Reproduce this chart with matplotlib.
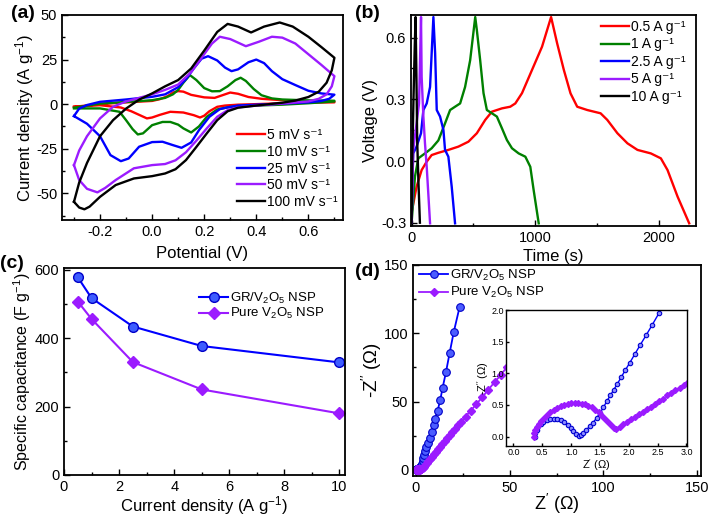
import matplotlib
matplotlib.use("Agg")
import matplotlib.pyplot as plt
from matplotlib.ticker import MultipleLocator

plt.rcParams['font.family'] = ['Liberation Sans', 'DejaVu Sans']
plt.rcParams['mathtext.default'] = 'regular'
plt.rcParams['axes.unicode_minus'] = False

# ---- (a) cyclic voltammetry: forward (upper) and reverse (lower) branches
cv5_e_up = [-0.3, -0.2, -0.1, 0.0, 0.03, 0.06, 0.08, 0.1, 0.12, 0.15, 0.2, 0.24, 0.27, 0.3, 0.33, 0.37, 0.42, 0.5, 0.6, 0.7]
cv5_i_up = [-1.5, 0.0, 1.0, 1.8, 2.8, 4.5, 6.5, 7.3, 7.0, 5.2, 3.8, 3.5, 5.0, 6.5, 5.8, 4.0, 3.0, 2.2, 1.6, 1.3]
cv5_e_dn = [0.7, 0.6, 0.5, 0.4, 0.33, 0.28, 0.25, 0.22, 0.2, 0.184, 0.16, 0.12, 0.07, 0.03, 0.0, -0.02, -0.05, -0.08, -0.12, -0.2, -0.3]
cv5_i_dn = [1.0, 0.8, 0.5, 0.0, -0.3, -0.8, -1.5, -4.0, -6.5, -7.5, -6.2, -4.7, -4.3, -6.0, -7.5, -8.0, -6.0, -4.0, -1.9, -0.6, -1.5]

cv10_e_up = [-0.3, -0.2, -0.1, 0.0, 0.05, 0.08, 0.1, 0.12, 0.145, 0.17, 0.2, 0.23, 0.26, 0.29, 0.32, 0.34, 0.36, 0.39, 0.42, 0.46, 0.5, 0.6, 0.7]
cv10_i_up = [-2.0, 0.3, 1.2, 2.2, 3.5, 5.5, 8.0, 12.0, 16.3, 13.5, 9.0, 7.2, 7.3, 10.0, 13.5, 14.8, 13.0, 8.5, 5.0, 3.2, 2.6, 2.1, 1.9]
cv10_e_dn = [0.7, 0.6, 0.5, 0.4, 0.33, 0.29, 0.25, 0.21, 0.18, 0.15, 0.12, 0.1, 0.07, 0.04, 0.0, -0.035, -0.055, -0.075, -0.1, -0.125, -0.2, -0.3]
cv10_i_dn = [1.5, 0.5, -0.3, -0.8, -1.0, -1.8, -3.0, -7.1, -12.5, -15.9, -13.6, -11.5, -10.0, -10.0, -11.8, -16.4, -17.0, -14.0, -9.0, -4.3, -2.4, -2.4]

cv25_e_up = [-0.3, -0.28, -0.25, -0.2, -0.1, 0.0, 0.05, 0.1, 0.13, 0.16, 0.19, 0.215, 0.25, 0.28, 0.305, 0.33, 0.37, 0.4, 0.43, 0.46, 0.5, 0.55, 0.6, 0.65, 0.7]
cv25_i_up = [-6.7, -2.5, -0.5, 1.3, 2.6, 4.1, 5.5, 9.5, 14.0, 20.0, 25.5, 26.9, 24.5, 20.5, 18.5, 19.5, 23.5, 25.0, 23.0, 18.5, 14.0, 10.7, 7.5, 6.0, 5.3]
cv25_e_dn = [0.7, 0.68, 0.65, 0.6, 0.5, 0.4, 0.33, 0.29, 0.26, 0.22, 0.18, 0.15, 0.113, 0.08, 0.04, 0.0, -0.05, -0.09, -0.12, -0.16, -0.2, -0.25, -0.3]
cv25_i_dn = [5.3, 3.0, 1.8, 1.0, 0.3, -0.3, -0.8, -1.8, -2.8, -7.1, -14.6, -21.5, -24.5, -23.0, -21.1, -21.3, -23.9, -30.5, -32.0, -28.6, -18.0, -11.0, -6.7]

cv50_e_up = [-0.3, -0.28, -0.25, -0.2, -0.15, -0.1, -0.05, 0.0, 0.05, 0.1, 0.15, 0.2, 0.23, 0.26, 0.3, 0.36, 0.41, 0.46, 0.5, 0.55, 0.6, 0.65, 0.7]
cv50_i_up = [-34.2, -26.0, -18.0, -8.0, -1.5, 1.5, 3.5, 5.5, 8.0, 11.0, 18.0, 28.0, 34.0, 37.8, 36.5, 32.5, 35.0, 37.8, 37.3, 34.0, 28.0, 22.0, 15.7]
cv50_e_dn = [0.7, 0.69, 0.67, 0.64, 0.6, 0.5, 0.4, 0.33, 0.29, 0.25, 0.21, 0.17, 0.13, 0.09, 0.05, 0.0, -0.07, -0.14, -0.18, -0.21, -0.25, -0.28, -0.3]
cv50_i_dn = [15.7, 10.0, 5.5, 3.0, 1.5, 0.3, -0.8, -1.8, -3.4, -7.1, -13.6, -20.5, -27.0, -31.5, -33.6, -34.2, -36.0, -42.6, -47.0, -49.5, -47.5, -42.6, -34.2]

cv100_e_up = [-0.3, -0.28, -0.25, -0.2, -0.15, -0.1, -0.05, 0.0, 0.05, 0.1, 0.15, 0.2, 0.25, 0.29, 0.33, 0.38, 0.43, 0.49, 0.54, 0.6, 0.65, 0.7]
cv100_i_up = [-54.8, -44.0, -33.0, -18.0, -9.0, -2.5, 2.5, 6.0, 10.0, 13.5, 20.0, 30.0, 40.5, 45.0, 43.5, 40.2, 43.5, 45.8, 43.5, 37.8, 32.0, 26.0]
cv100_e_dn = [0.7, 0.69, 0.67, 0.64, 0.6, 0.55, 0.5, 0.4, 0.33, 0.29, 0.25, 0.21, 0.17, 0.13, 0.09, 0.05, 0.0, -0.07, -0.14, -0.2, -0.24, -0.26, -0.28, -0.3]
cv100_i_dn = [26.0, 19.0, 12.0, 7.0, 4.0, 2.0, 0.8, -0.8, -2.0, -4.0, -9.0, -16.4, -24.0, -31.4, -36.5, -38.9, -40.4, -41.7, -45.4, -52.0, -57.5, -59.0, -58.0, -54.8]

cv_labels = ['5 mV s⁻¹', '10 mV s⁻¹', '25 mV s⁻¹', '50 mV s⁻¹', '100 mV s⁻¹']

# ---- (b) charge / discharge
gcd05_t = [0, 40, 81, 122, 162, 216, 297, 378, 459, 527, 595, 649, 730, 797, 838, 892, 973, 1054, 1127,
           1176, 1230, 1284, 1338, 1419, 1527, 1581, 1663, 1744, 1825, 1933, 2014, 2068, 2149, 2243]
gcd05_v = [-0.25, -0.125, -0.044, -0.003, 0.029, 0.04, 0.054, 0.07, 0.094, 0.135, 0.2, 0.24, 0.256, 0.264, 0.28, 0.33, 0.443, 0.556, 0.7,
           0.572, 0.443, 0.329, 0.264, 0.248, 0.232, 0.2, 0.135, 0.086, 0.054, 0.037, 0.013, -0.044, -0.173, -0.303]
gcd1_t = [0, 27, 54, 108, 162, 216, 270, 311, 351, 392, 432, 473, 514,
          527, 554, 581, 608, 649, 689, 730, 770, 811, 865, 919, 959, 986, 1027]
gcd1_v = [-0.3, -0.076, 0.013, 0.037, 0.062, 0.1, 0.183, 0.248, 0.264, 0.28, 0.36, 0.49, 0.7,
          0.637, 0.49, 0.33, 0.248, 0.232, 0.216, 0.159, 0.102, 0.062, 0.037, 0.021, -0.028, -0.141, -0.303]
gcd25_t = [0, 8, 13, 40, 76, 95, 122, 149, 176, 190, 203, 230, 257, 270, 297, 324, 351]
gcd25_v = [-0.3, -0.05, 0.037, 0.07, 0.135, 0.248, 0.28, 0.36, 0.7, 0.524, 0.248, 0.216, 0.151, 0.054, 0.021, -0.125, -0.303]
gcd5_t = [0, 13, 40, 60, 76, 81, 95, 108, 122, 149]
gcd5_v = [-0.3, 0.054, 0.183, 0.28, 0.7, 0.41, 0.216, 0.086, -0.028, -0.303]
gcd10_t = [0, 5, 15, 25, 32, 38, 45, 55, 67]
gcd10_v = [-0.3, 0.0, 0.3, 0.55, 0.7, 0.45, 0.1, -0.1, -0.3]
gcd_labels = ['0.5 A g⁻¹', '1 A g⁻¹', '2.5 A g⁻¹', '5 A g⁻¹', '10 A g⁻¹']

# ---- (c) specific capacitance
density = [0.5, 1, 2.5, 5, 10]
cap_gr = [578, 517, 434, 377, 329]
cap_pure = [507, 456, 330, 250, 180]

# ---- (d) Nyquist data
gr_zre = [0.37, 0.38, 0.40, 0.43, 0.47, 0.52, 0.58, 0.64, 0.70, 0.76, 0.82, 0.88, 0.94, 0.99, 1.04, 1.09, 1.13,
          1.17, 1.21, 1.26, 1.32, 1.38, 1.44, 1.50, 1.56, 1.62, 1.68, 1.74, 1.80, 1.87, 1.94, 2.02, 2.11, 2.20,
          2.30, 2.41, 2.53, 2.66, 3.0, 3.3, 3.6, 3.85, 4.1, 4.8, 5.5, 6.4, 7.3, 8.4, 9.45, 10.3, 11.6, 13.0,
          14.3, 16.05, 18.0, 20.2, 23.4]
gr_zim = [0.0, 0.06, 0.11, 0.16, 0.20, 0.23, 0.255, 0.27, 0.275, 0.27, 0.255, 0.225, 0.18, 0.13, 0.08, 0.035, 0.01,
          0.03, 0.06, 0.10, 0.16, 0.22, 0.29, 0.37, 0.46, 0.56, 0.65, 0.74, 0.83, 0.94, 1.05, 1.17, 1.31, 1.45,
          1.60, 1.77, 1.96, 2.16, 3.0, 4.6, 6.7, 8.7, 10.8, 13.7, 16.4, 19.8, 23.5, 27.9, 32.8, 37.6, 43.3, 51.0,
          60.2, 71.4, 85.4, 100.8, 119.6]
pure_zre = [0.35, 0.36, 0.38, 0.41, 0.44, 0.48, 0.53, 0.58, 0.64, 0.70, 0.76, 0.82, 0.88, 0.94, 1.0, 1.06, 1.12,
            1.18, 1.24, 1.30, 1.36, 1.42, 1.48, 1.54, 1.59, 1.64, 1.69, 1.74, 1.78, 1.84, 1.90, 1.97, 2.04, 2.11,
            2.18, 2.25, 2.32, 2.39, 2.46, 2.53, 2.60, 2.67, 2.74, 2.81, 2.88, 2.95, 3.02, 3.6, 4.3, 5.0, 5.8, 6.6,
            7.5, 8.5, 9.5, 10.6, 11.7, 12.9, 14.1, 15.4, 16.7, 18.1, 19.5, 21.0, 22.5, 24.1, 26.5, 29.2, 32.2,
            35.3, 38.6, 42.2, 45.4, 48.7]
pure_zim = [0.0, 0.05, 0.10, 0.15, 0.20, 0.25, 0.30, 0.34, 0.38, 0.42, 0.45, 0.48, 0.50, 0.52, 0.53, 0.53, 0.53,
            0.52, 0.51, 0.49, 0.46, 0.42, 0.38, 0.33, 0.28, 0.23, 0.18, 0.14, 0.12, 0.15, 0.19, 0.23, 0.27, 0.31,
            0.35, 0.39, 0.43, 0.47, 0.51, 0.56, 0.60, 0.65, 0.69, 0.73, 0.77, 0.82, 0.86, 1.4, 2.3, 3.4, 4.8, 6.3,
            7.9, 9.6, 11.3, 13.1, 15.0, 17.0, 19.0, 21.1, 23.2, 25.5, 27.8, 30.2, 32.6, 35.1, 39.0, 43.2, 48.0,
            53.0, 58.6, 64.6, 69.6, 75.6]
sample_labels = ['GR/V$_2$O$_5$ NSP', 'Pure V$_2$O$_5$ NSP']

RED, GREEN, BLUE, PURPLE, BLACK = '#ff0000', '#008000', '#0000ff', '#9b1bff', '#000000'
W, H = 708, 516
fig = plt.figure(figsize=(W / 100, H / 100), dpi=100)


def box(left, top, right, bottom):
    return fig.add_axes([left / W, 1 - bottom / H, (right - left) / W, (bottom - top) / H])


def style(ax, size=10.5, lw=1.3):
    for s in ax.spines.values():
        s.set_linewidth(lw)
    ax.tick_params(which='both', direction='in', top=False, right=False, labelsize=size, width=1.0)
    ax.tick_params(which='major', length=4)
    ax.tick_params(which='minor', length=2.5)


def legend(ax, x, y, size, spacing, hl=2.0):
    ax.legend(loc='upper left', bbox_to_anchor=(x / W, 1 - y / H), bbox_transform=fig.transFigure,
              frameon=False, fontsize=size, borderpad=0, borderaxespad=0, handlelength=hl,
              handletextpad=0.15, labelspacing=spacing)


# (a)
ax = box(62, 15, 343, 220)
cv_sets = [(cv5_e_up, cv5_i_up, cv5_e_dn, cv5_i_dn, RED),
           (cv10_e_up, cv10_i_up, cv10_e_dn, cv10_i_dn, GREEN),
           (cv25_e_up, cv25_i_up, cv25_e_dn, cv25_i_dn, BLUE),
           (cv50_e_up, cv50_i_up, cv50_e_dn, cv50_i_dn, PURPLE),
           (cv100_e_up, cv100_i_up, cv100_e_dn, cv100_i_dn, BLACK)]
for (eu, iu, ed, idn, c), lab in zip(cv_sets, cv_labels):
    ax.plot(eu + ed, iu + idn, color=c, lw=1.7, label=lab, solid_joinstyle='round')
ax.set_xlim(-0.346, 0.733)
ax.set_ylim(-65, 50)
ax.xaxis.set_major_locator(MultipleLocator(0.2))
ax.xaxis.set_minor_locator(MultipleLocator(0.1))
ax.yaxis.set_major_locator(MultipleLocator(25))
ax.yaxis.set_minor_locator(MultipleLocator(12.5))
style(ax)
ax.set_xlabel('Potential (V)', fontsize=12, labelpad=5)
ax.set_ylabel('Current density (A g$^{-1}$)', fontsize=12, labelpad=0)
legend(ax, 237, 128, 10, 0.2)

# (b)
ax = box(411, 15, 696, 226)
for t, v, c, lab in zip([gcd05_t, gcd1_t, gcd25_t, gcd5_t, gcd10_t],
                        [gcd05_v, gcd1_v, gcd25_v, gcd5_v, gcd10_v],
                        [RED, GREEN, BLUE, PURPLE, BLACK], gcd_labels):
    ax.plot(t, v, color=c, lw=1.7, label=lab, solid_joinstyle='round')
ax.set_xlim(-5, 2298)
ax.set_ylim(-0.316, 0.71)
ax.xaxis.set_major_locator(MultipleLocator(1000))
ax.xaxis.set_minor_locator(MultipleLocator(500))
ax.yaxis.set_major_locator(MultipleLocator(0.3))
ax.yaxis.set_minor_locator(MultipleLocator(0.15))
style(ax)
ax.set_xlabel('Time (s)', fontsize=12, labelpad=3)
ax.set_ylabel('Voltage (V)', fontsize=12, labelpad=2)
legend(ax, 601, 20, 10, 0.25)

# (c)
ax = box(64, 268, 345, 475)
ax.plot(density, cap_gr, color=BLUE, lw=1.5, marker='o', ms=7, mfc='#3d5cff', mec='#0000c8', label=sample_labels[0])
ax.plot(density, cap_pure, color=PURPLE, lw=1.5, marker='D', ms=6.5, mfc=PURPLE, mec=PURPLE, label=sample_labels[1])
ax.set_xlim(0, 10.2)
ax.set_ylim(0, 605)
ax.xaxis.set_major_locator(MultipleLocator(2))
ax.xaxis.set_minor_locator(MultipleLocator(1))
ax.yaxis.set_major_locator(MultipleLocator(200))
ax.yaxis.set_minor_locator(MultipleLocator(100))
style(ax)
ax.set_xlabel('Current density (A g$^{-1}$)', fontsize=12, labelpad=0)
ax.set_ylabel('Specific capacitance (F g$^{-1}$)', fontsize=11.5, labelpad=1)
legend(ax, 199, 291, 9.5, 0.02, hl=2.2)

# (d)
ax = box(413, 265, 701, 476)
ax.plot(gr_zre, gr_zim, color=BLUE, lw=1.3, marker='o', ms=5.5, mfc='#4b5dff', mec='#0000c8', mew=0.8,
        label=sample_labels[0])
ax.plot(pure_zre, pure_zim, color=PURPLE, lw=1.3, marker='D', ms=4.5, mfc=PURPLE, mec=PURPLE,
        label=sample_labels[1])
ax.set_xlim(-1.5, 152)
ax.set_ylim(-4.5, 150)
ax.xaxis.set_major_locator(MultipleLocator(50))
ax.xaxis.set_minor_locator(MultipleLocator(25))
ax.yaxis.set_major_locator(MultipleLocator(50))
ax.yaxis.set_minor_locator(MultipleLocator(25))
style(ax, size=10.5)
ax.set_xlabel("Z$'$ (Ω)", fontsize=13, labelpad=-2)
ax.set_ylabel("-Z$''$ (Ω)", fontsize=13.5, labelpad=0)
legend(ax, 419, 268, 9.5, 0.17, hl=2.2)

ins = box(506, 310, 687, 446)
ins.plot(gr_zre, gr_zim, color=BLUE, lw=1.0, marker='o', ms=3.2, mfc='#8c8cff', mec='#0000d0', mew=0.8)
ins.plot(pure_zre, pure_zim, color=PURPLE, lw=1.0, marker='D', ms=3, mfc=PURPLE, mec=PURPLE)
ins.set_xlim(-0.13, 3.01)
ins.set_ylim(-0.15, 2.0)
ins.xaxis.set_major_locator(MultipleLocator(0.5))
ins.yaxis.set_major_locator(MultipleLocator(0.5))
ins.xaxis.set_major_formatter(plt.FormatStrFormatter('%.1f'))
ins.yaxis.set_major_formatter(plt.FormatStrFormatter('%.1f'))
style(ins, size=6.5, lw=1.0)
ins.tick_params(length=2.5, pad=1.5)
ins.set_xlabel("Z$'$ (Ω)", fontsize=8, labelpad=0)
ins.set_ylabel("-Z$''$ (Ω)", fontsize=8, labelpad=0)

# panel letters
for lab, x, y in [('(a)', 11, 14), ('(b)', 355, 13), ('(c)', 0, 264), ('(d)', 355, 271)]:
    fig.text(x / W, 1 - y / H, lab, fontsize=14, fontweight='bold', va='center', ha='left')

fig.savefig('out.png', dpi=100)
